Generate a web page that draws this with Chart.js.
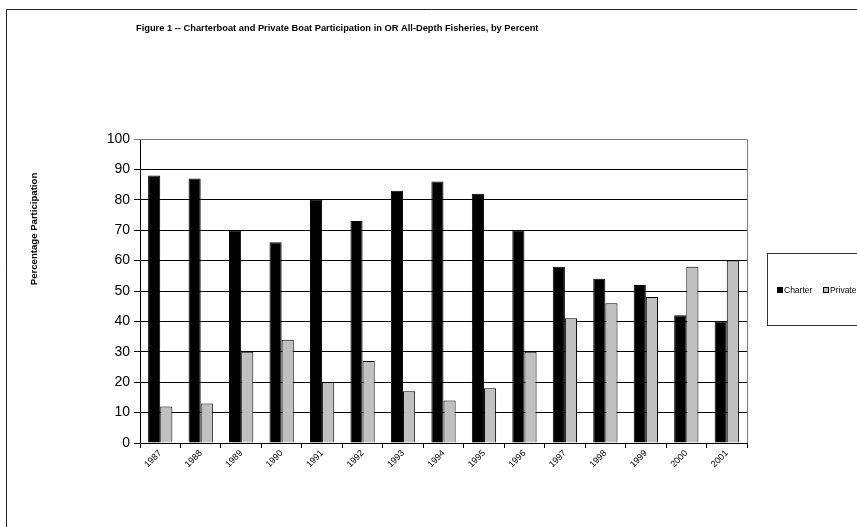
<!DOCTYPE html>
<html>
<head>
<meta charset="utf-8">
<title>Figure 1</title>
<script src="https://cdn.jsdelivr.net/npm/chart.js@4/dist/chart.umd.min.js"></script>
<style>
    html, body { margin: 0; padding: 0; background: #fff; }
    #wrap { position: relative; width: 857px; height: 527px; }
</style>
</head>
<body>
<div id="wrap"><canvas id="chart" width="857" height="527"></canvas></div>
<script>
// Data
const years = ['1987', '1988', '1989', '1990', '1991', '1992', '1993', '1994', '1995', '1996', '1997', '1998', '1999', '2000', '2001'];
const charter = [88, 87, 70, 66, 80, 73, 83, 86, 82, 70, 58, 54, 52, 42, 40];
const privateBoat = [12, 13, 30, 34, 20, 27, 17, 14, 18, 30, 41, 46, 48, 58, 60];
const yTicks = [0, 10, 20, 30, 40, 50, 60, 70, 80, 90, 100];

const FONT = '"Liberation Sans", Arial, sans-serif';

// Frame, titles and the boxed legend (drawn on the canvas)
const decorations = {
    id: 'decorations',
    afterDraw(chart) {
        const ctx = chart.ctx;
        const area = chart.chartArea;
        ctx.save();

        // outer frame (top + left visible)
        ctx.strokeStyle = '#222';
        ctx.lineWidth = 1;
        ctx.beginPath();
        ctx.moveTo(6.5, 527);
        ctx.lineTo(6.5, 9.5);
        ctx.lineTo(857, 9.5);
        ctx.stroke();

        // plot area border, top and right
        ctx.strokeStyle = '#808080';
        ctx.beginPath();
        ctx.moveTo(area.left, Math.round(area.top) + 0.5);
        ctx.lineTo(Math.round(area.right) + 0.5, Math.round(area.top) + 0.5);
        ctx.lineTo(Math.round(area.right) + 0.5, area.bottom);
        ctx.stroke();

        // chart title
        ctx.fillStyle = '#000';
        ctx.font = 'bold 9.3px ' + FONT;
        ctx.textAlign = 'left';
        ctx.textBaseline = 'middle';
        ctx.fillText('Figure 1 -- Charterboat and Private Boat Participation in OR All-Depth Fisheries, by Percent', 136, 28);

        // y axis title
        ctx.save();
        ctx.translate(34, 229);
        ctx.rotate(-Math.PI / 2);
        ctx.textAlign = 'center';
        ctx.font = 'bold 9.6px ' + FONT;
        ctx.fillText('Percentage Participation', 0, 0);
        ctx.restore();

        // legend box
        ctx.strokeStyle = '#333';
        ctx.strokeRect(767.5, 253.5, 110, 72);
        ctx.font = '8.5px ' + FONT;
        ctx.textBaseline = 'middle';
        let x = 777;
        chart.data.datasets.forEach(ds => {
            ctx.fillStyle = ds.backgroundColor;
            ctx.fillRect(x, 287, 6, 6);
            ctx.strokeStyle = '#000';
            ctx.strokeRect(x + 0.5, 287.5, 5, 5);
            ctx.fillStyle = '#000';
            ctx.fillText(ds.label, x + 7, 290.5);
            x += 46;
        });

        ctx.restore();
    }
};

new Chart(document.getElementById('chart'), {
    type: 'bar',
    data: {
        labels: years,
        datasets: [
            {
                label: 'Charter',
                data: charter,
                backgroundColor: '#000000',
                borderColor: '#000000',
                borderWidth: 1,
                categoryPercentage: 0.6,
                barPercentage: 1.0
            },
            {
                label: 'Private',
                data: privateBoat,
                backgroundColor: '#c0c0c0',
                borderColor: '#000000',
                borderWidth: 1,
                categoryPercentage: 0.6,
                barPercentage: 1.0
            }
        ]
    },
    options: {
        responsive: false,
        animation: false,
        devicePixelRatio: 1,
        layout: {
            padding: { left: 0, top: 139, right: 110, bottom: 34 }
        },
        plugins: {
            legend: { display: false },
            title: { display: false },
            tooltip: { enabled: false }
        },
        scales: {
            x: {
                grid: {
                    display: true,
                    offset: true,
                    drawOnChartArea: false,
                    drawTicks: true,
                    tickLength: 5,
                    color: '#000'
                },
                border: { display: true, color: '#000', width: 1 },
                ticks: {
                    color: '#000',
                    font: { family: FONT, size: 9 },
                    minRotation: 45,
                    maxRotation: 45,
                    padding: 0,
                    autoSkip: false
                },
                afterFit(scale) { scale.height = 50; }
            },
            y: {
                min: 0,
                max: 100,
                afterBuildTicks(scale) {
                    scale.ticks = yTicks.map(v => ({ value: v }));
                },
                grid: {
                    color: ctx => ctx.tick && ctx.tick.value === 100 ? '#808080' : '#000',
                    tickLength: 6,
                    lineWidth: 1
                },
                border: { display: true, color: '#000', width: 1 },
                ticks: {
                    color: '#000',
                    font: { family: FONT, size: 14 },
                    padding: 4
                },
                afterFit(scale) { scale.width = 140; }
            }
        }
    },
    plugins: [decorations]
});
</script>
</body>
</html>
